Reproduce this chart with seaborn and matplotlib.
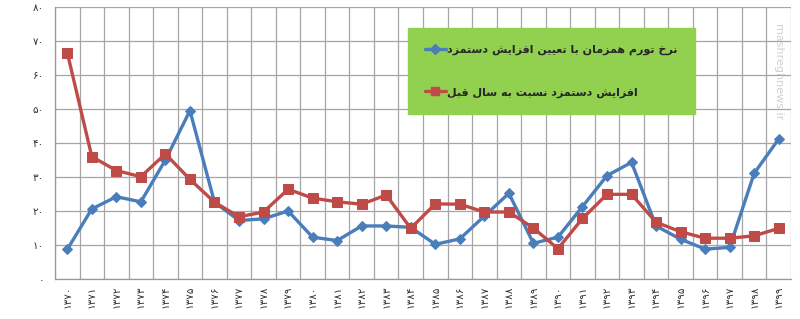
import matplotlib
matplotlib.use("Agg")
import matplotlib.pyplot as plt
import seaborn as sns
import pandas as pd
from matplotlib.lines import Line2D

# ---------------- data ----------------
years = ["۱۳۷۰", "۱۳۷۱", "۱۳۷۲", "۱۳۷۳", "۱۳۷۴", "۱۳۷۵", "۱۳۷۶", "۱۳۷۷", "۱۳۷۸", "۱۳۷۹",
         "۱۳۸۰", "۱۳۸۱", "۱۳۸۲", "۱۳۸۳", "۱۳۸۴", "۱۳۸۵", "۱۳۸۶", "۱۳۸۷", "۱۳۸۸", "۱۳۸۹",
         "۱۳۹۰", "۱۳۹۱", "۱۳۹۲", "۱۳۹۳", "۱۳۹۴", "۱۳۹۵", "۱۳۹۶", "۱۳۹۷", "۱۳۹۸", "۱۳۹۹"]
inflation = [8.7, 20.6, 24.2, 22.7, 35.0, 49.5, 22.6, 17.2, 17.7, 20.0,
             12.3, 11.3, 15.6, 15.6, 15.2, 10.2, 11.8, 18.5, 25.2, 10.5,
             12.3, 21.3, 30.4, 34.3, 15.6, 11.7, 8.8, 9.3, 31.1, 41.2]
wage_increase = [66.6, 36.0, 31.9, 30.1, 36.8, 29.3, 22.6, 18.3, 19.7, 26.4,
                 23.8, 22.7, 22.0, 24.7, 14.9, 22.1, 22.0, 19.7, 19.7, 15.0,
                 8.9, 17.8, 24.9, 24.9, 16.7, 13.9, 12.0, 12.0, 12.7, 14.9]
y_ticks = [0, 10, 20, 30, 40, 50, 60, 70, 80]
y_tick_labels = ["۰", "۱۰", "۲۰", "۳۰", "۴۰", "۵۰", "۶۰", "۷۰", "۸۰"]
label_inflation = "نرخ تورم همزمان با تعیین افزایش دستمزد"
label_wage = "افزایش دستمزد نسبت به سال قبل"

# ------------- minimal Arabic-script shaping for display -------------
FORMS = {
    "ا": (0xFE8D, 0xFE8E, None, None),
    "ب": (0xFE8F, 0xFE90, 0xFE91, 0xFE92),
    "ت": (0xFE95, 0xFE96, 0xFE97, 0xFE98),
    "خ": (0xFEA5, 0xFEA6, 0xFEA7, 0xFEA8),
    "د": (0xFEA9, 0xFEAA, None, None),
    "ر": (0xFEAD, 0xFEAE, None, None),
    "ز": (0xFEAF, 0xFEB0, None, None),
    "س": (0xFEB1, 0xFEB2, 0xFEB3, 0xFEB4),
    "ش": (0xFEB5, 0xFEB6, 0xFEB7, 0xFEB8),
    "ع": (0xFEC9, 0xFECA, 0xFECB, 0xFECC),
    "ف": (0xFED1, 0xFED2, 0xFED3, 0xFED4),
    "ق": (0xFED5, 0xFED6, 0xFED7, 0xFED8),
    "ل": (0xFEDD, 0xFEDE, 0xFEDF, 0xFEE0),
    "م": (0xFEE1, 0xFEE2, 0xFEE3, 0xFEE4),
    "ن": (0xFEE5, 0xFEE6, 0xFEE7, 0xFEE8),
    "ه": (0xFEE9, 0xFEEA, 0xFEEB, 0xFEEC),
    "و": (0xFEED, 0xFEEE, None, None),
    "ی": (0xFEEF, 0xFEF0, 0xFEF3, 0xFEF4),
}


def shape(text):
    out = []
    n = len(text)
    for i, c in enumerate(text):
        if c not in FORMS:
            out.append(c)
            continue
        iso, fin, ini, med = FORMS[c]
        prev = text[i - 1] if i > 0 else None
        nxt = text[i + 1] if i < n - 1 else None
        pj = prev in FORMS and FORMS[prev][2] is not None
        nj = nxt in FORMS and ini is not None
        if pj and nj:
            cp = med
        elif pj:
            cp = fin
        elif nj:
            cp = ini
        else:
            cp = iso
        out.append(chr(cp))
    return "".join(out)[::-1]


# ---------------- plot ----------------
sns.set_theme(style="white")
plt.rcParams["font.family"] = ["DejaVu Sans"]

df = pd.DataFrame({"idx": range(len(years)), "year": years,
                   "inflation": inflation, "wage": wage_increase})

fig = plt.figure(figsize=(8.0, 3.19), dpi=100)
ax = fig.add_axes([55 / 800, 1 - 279 / 319, (791 - 55) / 800, (279 - 7) / 319])

blue = "#4A7EBB"
red = "#BE4B48"
sns.lineplot(data=df, x="idx", y="inflation", ax=ax, color=blue, lw=2.4,
             marker="D", markersize=5.5, markeredgecolor=blue, zorder=3)
sns.lineplot(data=df, x="idx", y="wage", ax=ax, color=red, lw=2.4,
             marker="s", markersize=7, markeredgecolor=red, zorder=4)

ax.set_xlim(-0.5, len(years) - 0.5)
ax.set_ylim(0, 80)
ax.set_xlabel("")
ax.set_ylabel("")

ax.set_xticks(range(len(years)))
ax.set_xticklabels(years, rotation=90, fontsize=7.5, color="#333333")
ax.set_xticks([i + 0.5 for i in range(-1, len(years))], minor=True)
ax.tick_params(axis="x", which="major", length=0, pad=5)
ax.tick_params(axis="x", which="minor", length=4, color="#999999", width=0.8)
ax.set_yticks(y_ticks)
ax.set_yticklabels(y_tick_labels, fontsize=7.5, color="#333333")
ax.tick_params(axis="y", which="major", length=4, color="#999999", width=0.8, pad=4)

ax.grid(False)
ax.yaxis.grid(True, color="#A6A6A6", lw=0.9)
ax.xaxis.grid(True, which="minor", color="#A6A6A6", lw=0.9)
ax.set_axisbelow(True)
for side in ["top", "right"]:
    ax.spines[side].set_visible(False)
for side in ["left", "bottom"]:
    ax.spines[side].set_color("#999999")
    ax.spines[side].set_linewidth(0.9)

handles = [
    Line2D([0], [0], color=blue, lw=2.4, marker="D", markersize=5, markeredgecolor=blue),
    Line2D([0], [0], color=red, lw=2.4, marker="s", markersize=6, markeredgecolor=red),
]
leg = ax.legend(handles, [shape(label_inflation), shape(label_wage)],
                loc="upper left", bbox_to_anchor=(408 / 800, 1 - 28 / 319),
                bbox_transform=fig.transFigure,
                prop={"weight": "bold", "size": 8, "family": "DejaVu Sans"},
                frameon=True, fancybox=False, facecolor="#92D050", edgecolor="#92D050",
                framealpha=1.0, borderpad=1.5, labelspacing=2.9, handlelength=1.9,
                handletextpad=0.15, borderaxespad=0)
leg.set_zorder(10)

fig.text(778 / 800, 1 - 24 / 319, "mashreghnews.ir", rotation=-90, fontsize=8,
         color="#D0D0D0", ha="center", va="top")

fig.savefig("out.png", dpi=100, facecolor="white")
